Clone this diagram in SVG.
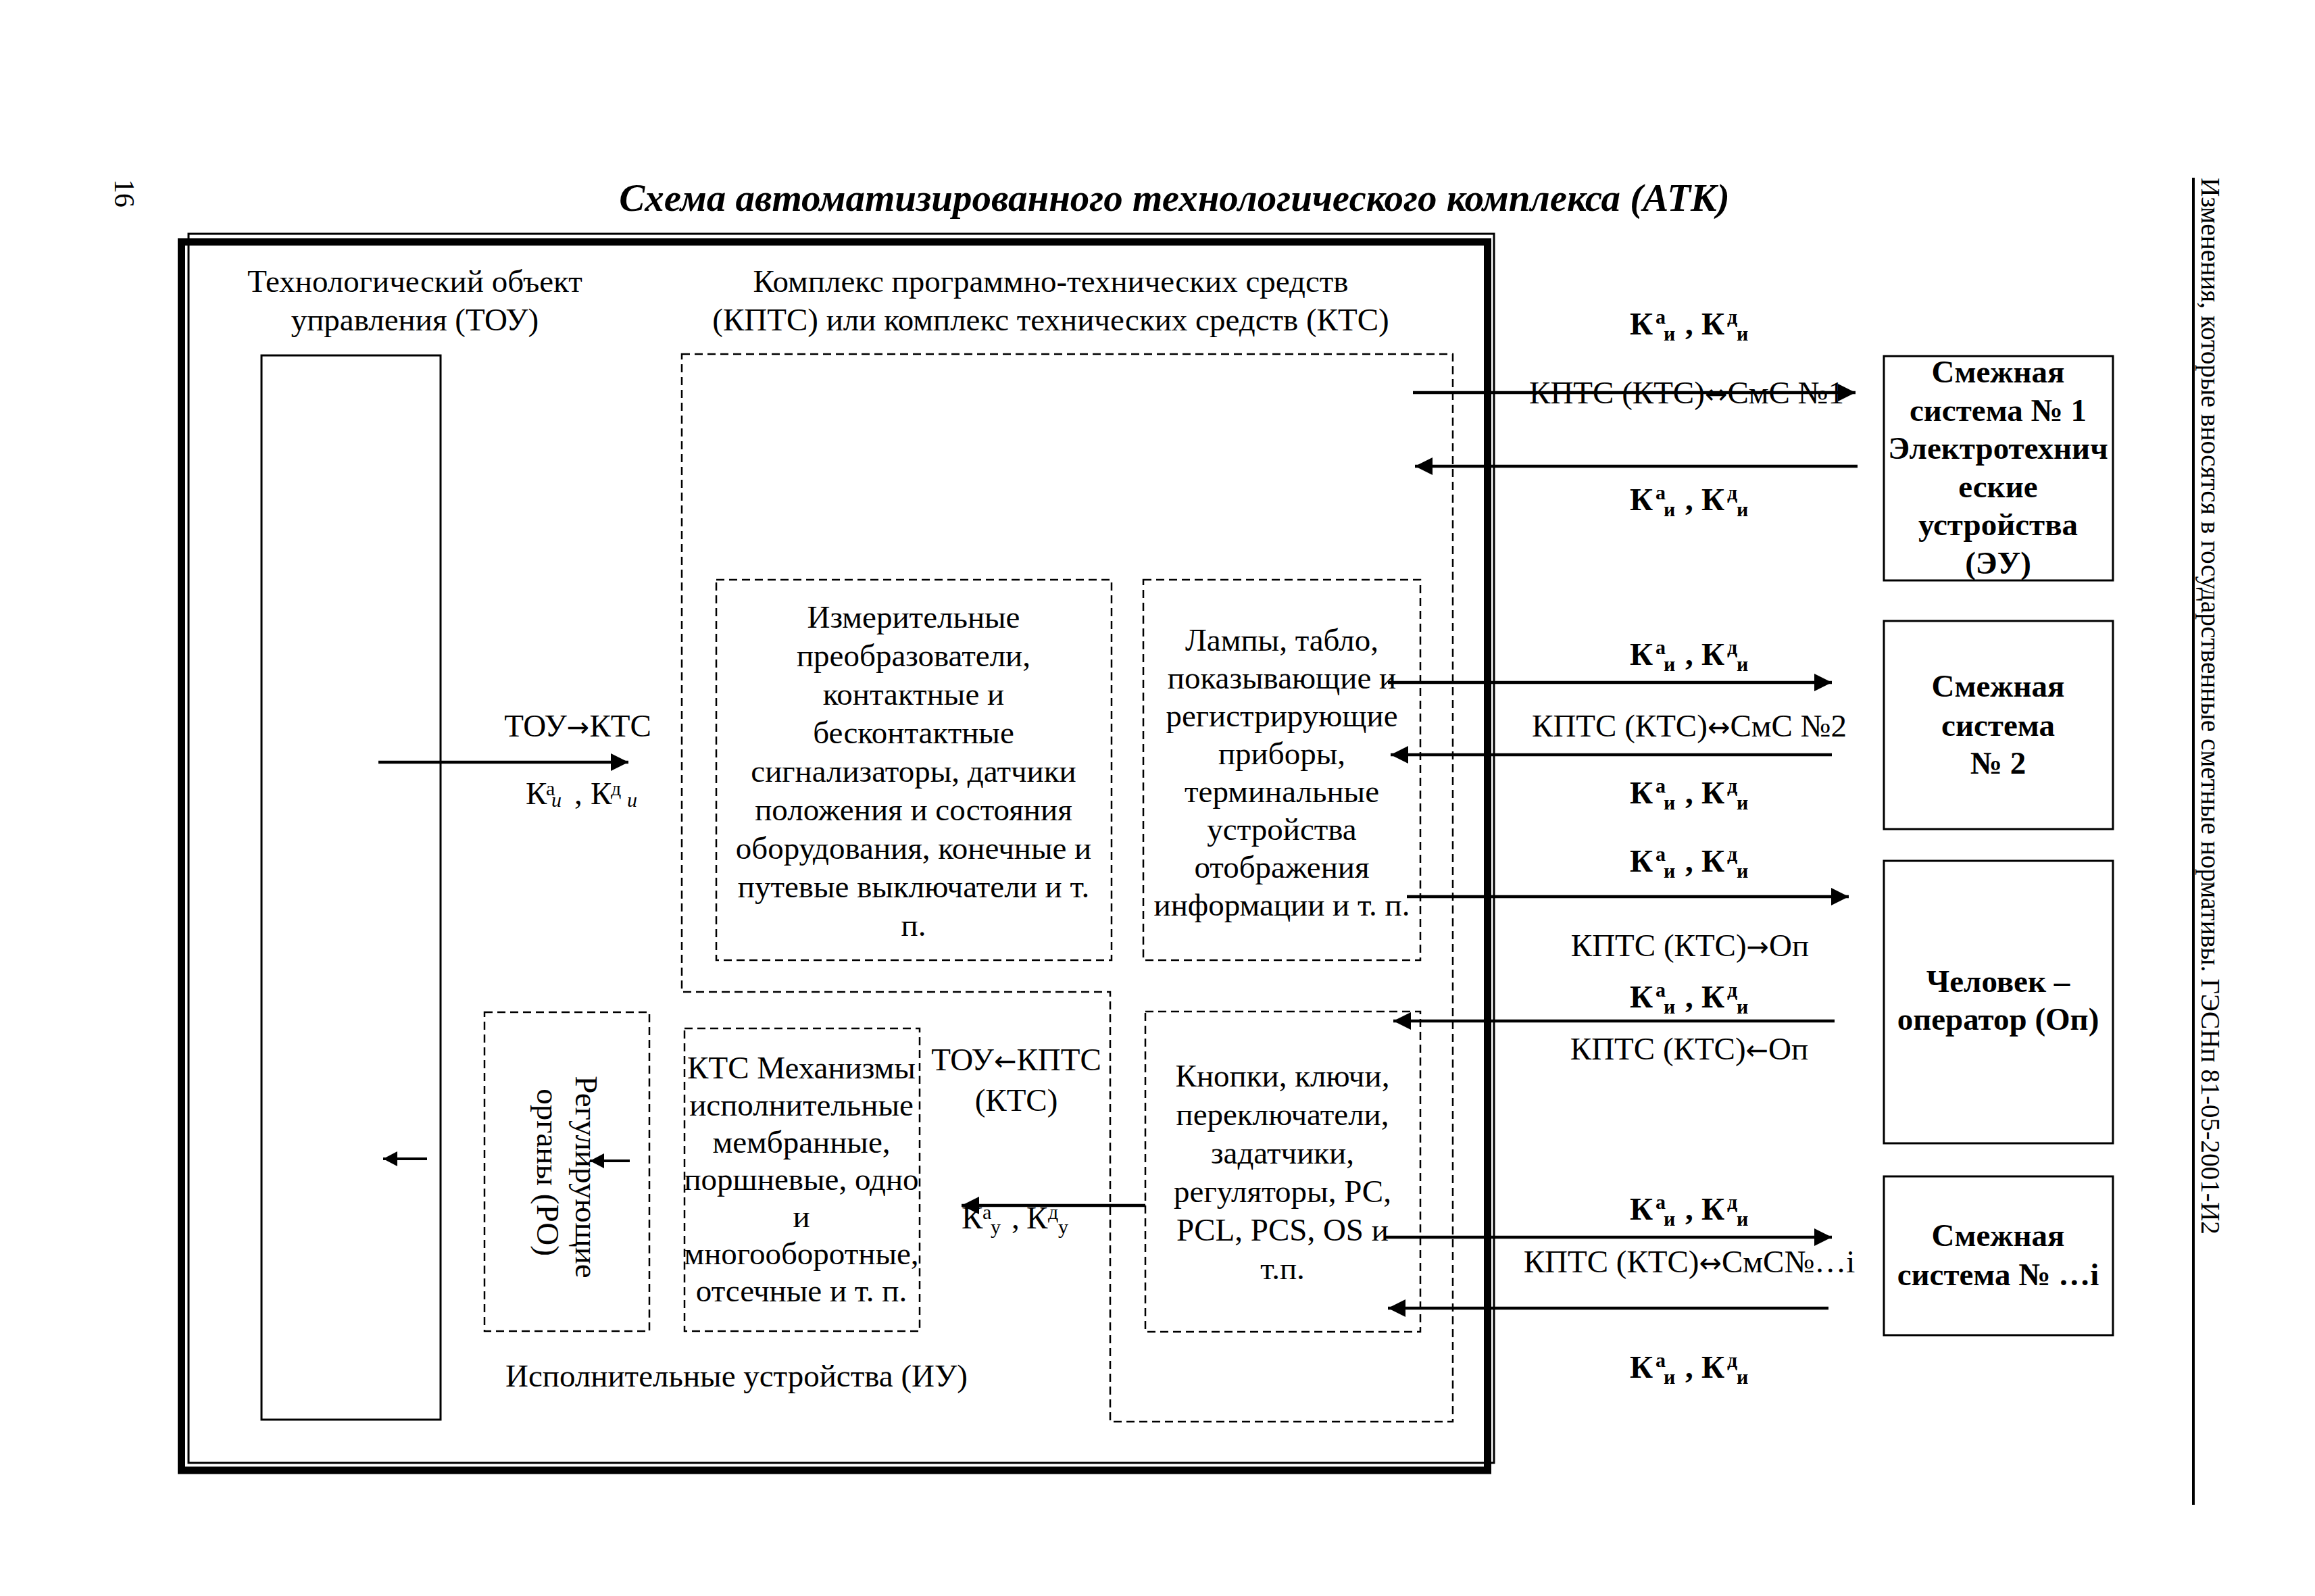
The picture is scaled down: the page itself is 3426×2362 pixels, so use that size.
<svg xmlns="http://www.w3.org/2000/svg" width="3426" height="2362" viewBox="0 0 3426 2362">
<style>
text{font-family:"Liberation Serif","Times New Roman",serif;fill:#000}
.t{font-size:47px}
.c{text-anchor:middle}
.b{font-weight:bold}
.sm{font-size:30px}
.ar{font-family:"DejaVu Sans",sans-serif;font-size:40px}
.solid{fill:none;stroke:#000;stroke-width:3}
.dash{fill:none;stroke:#000;stroke-width:2.5;stroke-dasharray:12 7}
.arr{fill:none;stroke:#000;stroke-width:4.5;marker-end:url(#ah)}
.arrs{fill:none;stroke:#000;stroke-width:4;marker-end:url(#ahs)}
</style>
<defs>
<marker id="ah" markerUnits="userSpaceOnUse" markerWidth="28" markerHeight="28" refX="26" refY="13" orient="auto"><path d="M0,0 L26,13 L0,26 z" fill="#000"/></marker>
<marker id="ahs" markerUnits="userSpaceOnUse" markerWidth="24" markerHeight="24" refX="21" refY="11" orient="auto"><path d="M0,0 L21,11 L0,22 z" fill="#000"/></marker>
</defs>
<rect x="0" y="0" width="3426" height="2362" fill="#fff"/>

<g id="page-number"><text transform="translate(170,265) rotate(90)" style="font-size:42px">16</text></g>
<g id="title"><text class="c b" x="1738" y="312" style="font-size:57px;font-style:italic">Схема автоматизированного технологического комплекса (АТК)</text></g>
<g id="side-note">
<line x1="3246" y1="263" x2="3246" y2="2227" stroke="#000" stroke-width="4"/>
<text transform="translate(3258,263) rotate(90)" style="font-size:40px" textLength="1564" lengthAdjust="spacingAndGlyphs">Изменения, которые вносятся в государственные сметные нормативы. ГЭСНп 81-05-2001-И2</text>
</g>

<g id="atk-frame">
<rect x="268.5" y="358" width="1933" height="1818" fill="none" stroke="#000" stroke-width="11"/>
<rect x="279" y="346" width="1932" height="1819" fill="none" stroke="#000" stroke-width="3"/>
</g>

<g id="tou">
<text class="t c" x="614" y="432">Технологический объект</text>
<text class="t c" x="614" y="489">управления (ТОУ)</text>
<rect class="solid" x="387" y="526" width="265" height="1575"/>
</g>

<g id="kpts">
<text class="t c" x="1555" y="432">Комплекс программно-технических средств</text>
<text class="t c" x="1555" y="489">(КПТС) или комплекс технических средств (КТС)</text>
<path class="dash" d="M1009,524 H2150 V2104 H1643 V1468 H1009 Z"/>
</g>

<g id="measuring">
<rect class="dash" x="1060" y="858" width="585" height="563"/>
<text class="t c" x="1352" y="929">Измерительные</text>
<text class="t c" x="1352" y="986">преобразователи,</text>
<text class="t c" x="1352" y="1043">контактные и</text>
<text class="t c" x="1352" y="1100">бесконтактные</text>
<text class="t c" x="1352" y="1157">сигнализаторы, датчики</text>
<text class="t c" x="1352" y="1214">положения и состояния</text>
<text class="t c" x="1352" y="1271">оборудования, конечные и</text>
<text class="t c" x="1352" y="1328">путевые выключатели и т.</text>
<text class="t c" x="1352" y="1385">п.</text>
</g>

<g id="lamps">
<rect class="dash" x="1692" y="858" width="410" height="563"/>
<text class="t c" x="1897" y="963">Лампы, табло,</text>
<text class="t c" x="1897" y="1019">показывающие и</text>
<text class="t c" x="1897" y="1075">регистрирующие</text>
<text class="t c" x="1897" y="1131">приборы,</text>
<text class="t c" x="1897" y="1187">терминальные</text>
<text class="t c" x="1897" y="1243">устройства</text>
<text class="t c" x="1897" y="1299">отображения</text>
<text class="t c" x="1897" y="1355">информации и т. п.</text>
</g>

<g id="buttons">
<rect class="dash" x="1695" y="1497" width="407" height="474"/>
<text class="t c" x="1898" y="1608">Кнопки, ключи,</text>
<text class="t c" x="1898" y="1665">переключатели,</text>
<text class="t c" x="1898" y="1722">задатчики,</text>
<text class="t c" x="1898" y="1779">регуляторы, РС,</text>
<text class="t c" x="1898" y="1836">PCL, PCS, OS и</text>
<text class="t c" x="1898" y="1893">т.п.</text>
</g>

<g id="regulating-organs">
<rect class="dash" x="717" y="1498" width="244" height="472"/>
<text class="t c" transform="translate(852,1742) rotate(90)">Регулирующие</text>
<text class="t c" transform="translate(795,1735) rotate(90)">органы (РО)</text>
</g>

<g id="mechanisms">
<rect class="dash" x="1013" y="1522" width="348" height="448"/>
<text class="t c" x="1186" y="1596">КТС Механизмы</text>
<text class="t c" x="1186" y="1651">исполнительные</text>
<text class="t c" x="1186" y="1706">мембранные,</text>
<text class="t c" x="1186" y="1761">поршневые, одно</text>
<text class="t c" x="1186" y="1816">и</text>
<text class="t c" x="1186" y="1871">многооборотные,</text>
<text class="t c" x="1186" y="1926">отсечные и т. п.</text>
</g>

<g id="actuators-label"><text class="t c" x="1090" y="2052">Исполнительные устройства (ИУ)</text></g>

<g id="sms1">
<rect class="solid" x="2788" y="527" width="339" height="332"/>
<text class="t c b" x="2957" y="566">Смежная</text>
<text class="t c b" x="2957" y="623">система № 1</text>
<text class="t c b" x="2957" y="679">Электротехнич</text>
<text class="t c b" x="2957" y="736">еские</text>
<text class="t c b" x="2957" y="792">устройства</text>
<text class="t c b" x="2957" y="849">(ЭУ)</text>
</g>
<g id="sms2">
<rect class="solid" x="2788" y="919" width="339" height="308"/>
<text class="t c b" x="2957" y="1031">Смежная</text>
<text class="t c b" x="2957" y="1089">система</text>
<text class="t c b" x="2957" y="1145">№ 2</text>
</g>
<g id="operator">
<rect class="solid" x="2788" y="1274" width="339" height="418"/>
<text class="t c b" x="2957" y="1468">Человек –</text>
<text class="t c b" x="2957" y="1524">оператор (Оп)</text>
</g>
<g id="smsi">
<rect class="solid" x="2788" y="1741" width="339" height="235"/>
<text class="t c b" x="2957" y="1844">Смежная</text>
<text class="t c b" x="2957" y="1902">система № …i</text>
</g>

<g id="connectors">
<line class="arr" x1="560" y1="1128" x2="930" y2="1128"/>
<line class="arr" x1="1695" y1="1784" x2="1423" y2="1784"/>
<line class="arrs" x1="632" y1="1715" x2="567" y2="1715"/>
<line class="arrs" x1="932" y1="1718" x2="873" y2="1718"/>
<line class="arr" x1="2091" y1="581" x2="2746" y2="581"/>
<line class="arr" x1="2749" y1="690" x2="2094" y2="690"/>
<line class="arr" x1="2054" y1="1010" x2="2711" y2="1010"/>
<line class="arr" x1="2711" y1="1117" x2="2058" y2="1117"/>
<line class="arr" x1="2082" y1="1327" x2="2736" y2="1327"/>
<line class="arr" x1="2715" y1="1511" x2="2062" y2="1511"/>
<line class="arr" x1="2050" y1="1831" x2="2711" y2="1831"/>
<line class="arr" x1="2706" y1="1936" x2="2054" y2="1936"/>
</g>

<g id="connector-labels">
<text class="t c" x="855" y="1090">ТОУ<tspan class="ar">→</tspan>КТС</text>
<text class="t"><tspan x="778" y="1190">К</tspan><tspan class="sm" x="808" y="1177">а</tspan><tspan class="sm" x="816" y="1194" font-style="italic">и</tspan><tspan x="850" y="1190">,</tspan><tspan x="874" y="1190">К</tspan><tspan class="sm" x="904" y="1177">д</tspan><tspan class="sm" x="928" y="1194" font-style="italic">и</tspan></text>

<text class="t c" x="1504" y="1584">ТОУ<tspan class="ar">←</tspan>КПТС</text>
<text class="t c" x="1504" y="1644">(КТС)</text>
<text class="t"><tspan x="1423" y="1818">К</tspan><tspan class="sm" x="1454" y="1804">а</tspan><tspan class="sm" x="1466" y="1826">у</tspan><tspan x="1497" y="1818">,</tspan><tspan x="1519" y="1818">К</tspan><tspan class="sm" x="1551" y="1804">д</tspan><tspan class="sm" x="1566" y="1826">у</tspan></text>

<text class="t c" x="2496" y="597">КПТС (КТС)<tspan class="ar">↔</tspan>СмС №1</text>
<text class="t c" x="2500" y="1090">КПТС (КТС)<tspan class="ar">↔</tspan>СмС №2</text>
<text class="t c" x="2501" y="1415">КПТС (КТС)<tspan class="ar">→</tspan>Оп</text>
<text class="t c" x="2500" y="1568">КПТС (КТС)<tspan class="ar">←</tspan>Оп</text>
<text class="t c" x="2500" y="1883">КПТС (КТС)<tspan class="ar">↔</tspan>СмС№…i</text>

<text class="t b"><tspan x="2412" y="495">К</tspan><tspan class="sm" x="2450" y="479">а</tspan><tspan class="sm" x="2462" y="504">и</tspan><tspan x="2494" y="495">,</tspan><tspan x="2518" y="495">К</tspan><tspan class="sm" x="2556" y="479">д</tspan><tspan class="sm" x="2570" y="504">и</tspan></text>
<text class="t b"><tspan x="2412" y="755">К</tspan><tspan class="sm" x="2450" y="739">а</tspan><tspan class="sm" x="2462" y="764">и</tspan><tspan x="2494" y="755">,</tspan><tspan x="2518" y="755">К</tspan><tspan class="sm" x="2556" y="739">д</tspan><tspan class="sm" x="2570" y="764">и</tspan></text>
<text class="t b"><tspan x="2412" y="984">К</tspan><tspan class="sm" x="2450" y="968">а</tspan><tspan class="sm" x="2462" y="993">и</tspan><tspan x="2494" y="984">,</tspan><tspan x="2518" y="984">К</tspan><tspan class="sm" x="2556" y="968">д</tspan><tspan class="sm" x="2570" y="993">и</tspan></text>
<text class="t b"><tspan x="2412" y="1189">К</tspan><tspan class="sm" x="2450" y="1173">а</tspan><tspan class="sm" x="2462" y="1198">и</tspan><tspan x="2494" y="1189">,</tspan><tspan x="2518" y="1189">К</tspan><tspan class="sm" x="2556" y="1173">д</tspan><tspan class="sm" x="2570" y="1198">и</tspan></text>
<text class="t b"><tspan x="2412" y="1290">К</tspan><tspan class="sm" x="2450" y="1274">а</tspan><tspan class="sm" x="2462" y="1299">и</tspan><tspan x="2494" y="1290">,</tspan><tspan x="2518" y="1290">К</tspan><tspan class="sm" x="2556" y="1274">д</tspan><tspan class="sm" x="2570" y="1299">и</tspan></text>
<text class="t b"><tspan x="2412" y="1491">К</tspan><tspan class="sm" x="2450" y="1475">а</tspan><tspan class="sm" x="2462" y="1500">и</tspan><tspan x="2494" y="1491">,</tspan><tspan x="2518" y="1491">К</tspan><tspan class="sm" x="2556" y="1475">д</tspan><tspan class="sm" x="2570" y="1500">и</tspan></text>
<text class="t b"><tspan x="2412" y="1805">К</tspan><tspan class="sm" x="2450" y="1789">а</tspan><tspan class="sm" x="2462" y="1814">и</tspan><tspan x="2494" y="1805">,</tspan><tspan x="2518" y="1805">К</tspan><tspan class="sm" x="2556" y="1789">д</tspan><tspan class="sm" x="2570" y="1814">и</tspan></text>
<text class="t b"><tspan x="2412" y="2039">К</tspan><tspan class="sm" x="2450" y="2023">а</tspan><tspan class="sm" x="2462" y="2048">и</tspan><tspan x="2494" y="2039">,</tspan><tspan x="2518" y="2039">К</tspan><tspan class="sm" x="2556" y="2023">д</tspan><tspan class="sm" x="2570" y="2048">и</tspan></text>
</g>
</svg>
